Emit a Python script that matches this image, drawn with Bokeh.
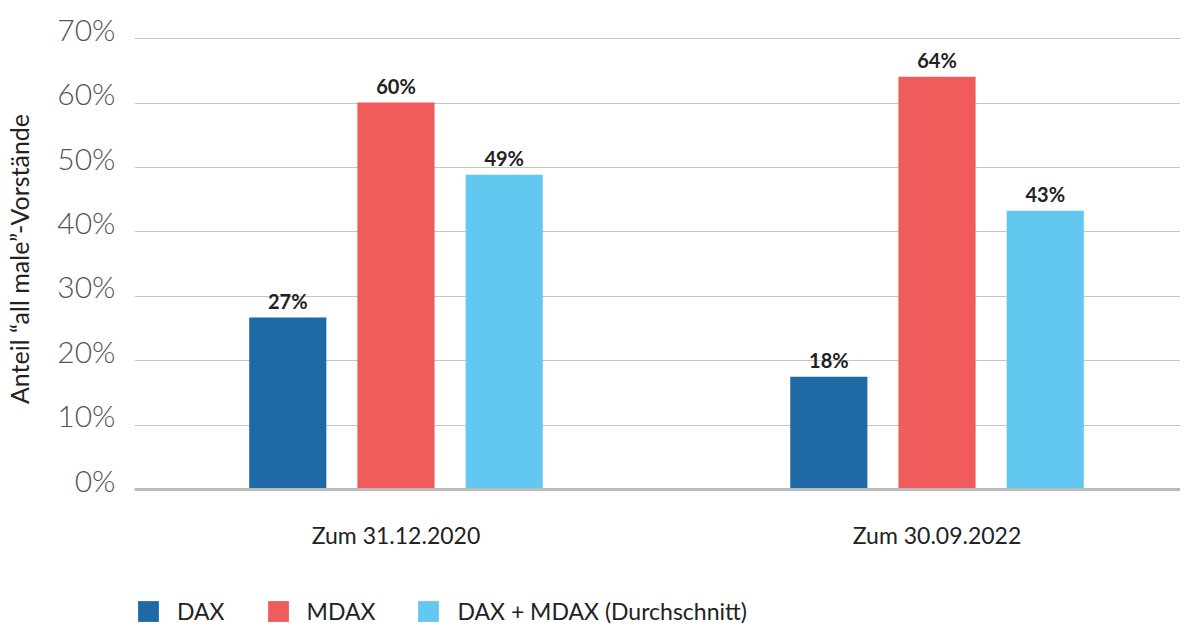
from bokeh.plotting import figure
from bokeh.models import ColumnDataSource, Range1d, FixedTicker, Legend, LegendItem, LinearAxis
from bokeh.layouts import column
from bokeh.transform import dodge
from bokeh.core.properties import value
from bokeh.embed import file_html
from bokeh.resources import INLINE

categories = ["Zum 31.12.2020", "Zum 30.09.2022"]
series = ["DAX", "MDAX", "DAX + MDAX (Durchschnitt)"]
dax = [26.7, 17.5]
mdax = [60.1, 64.1]
avg = [48.9, 43.3]
y_ticks = [0, 10, 20, 30, 40, 50, 60, 70]
colors = ["#1F69A6", "#F05C5C", "#62C8F0"]

FONT = "Lato"
LIGHT = "'Lato Light', Lato"

pos = list(range(len(categories)))
data = {"x": pos, "DAX": dax, "MDAX": mdax, "AVG": avg}
for key, vals in (("DAX", dax), ("MDAX", mdax), ("AVG", avg)):
    data[key + "_lbl"] = [f"{round(v)}%" for v in vals]
src = ColumnDataSource(data)

W = 1180
p = figure(width=W, height=560, output_backend="svg", toolbar_location=None,
           x_range=Range1d(-0.4833, 1.45), y_range=Range1d(0, 71.6),
           y_axis_location=None,
           min_border_left=134, min_border_right=0, min_border_top=28, min_border_bottom=71)
p.outline_line_color = None
p.background_fill_color = "white"
p.border_fill_color = "white"

# label axis: same scale, shifted so each tick label sits just above its grid line
p.extra_y_ranges = {"lbl": Range1d(-1.55, 70.05)}

offsets = [-0.2, 0.0, 0.2]
keys = ["DAX", "MDAX", "AVG"]
for k, off, c in zip(keys, offsets, colors):
    p.vbar(x=dodge("x", off, range=p.x_range), top=k, width=0.1426, bottom=0,
           source=src, fill_color=c, line_color=None)
    p.text(x=dodge("x", off, range=p.x_range), y=k, text=k + "_lbl", source=src,
           text_align="center", text_baseline="bottom", y_offset=-5,
           text_font=value(FONT), text_font_style="bold", text_font_size="20px",
           text_color="#222222")

# x axis
p.xaxis.ticker = FixedTicker(ticks=pos)
p.xaxis.major_label_overrides = {i: c for i, c in zip(pos, categories)}
p.xaxis.major_tick_line_color = None
p.xaxis.minor_tick_line_color = None
p.xaxis.axis_line_color = "#bbbbbb"
p.xaxis.axis_line_width = 3
p.xaxis.major_label_standoff = 25
p.xaxis.major_label_text_font = FONT
p.xaxis.major_label_text_font_size = "23px"
p.xaxis.major_label_text_color = "#222222"

# y axis (tick labels + title)
yax = LinearAxis(y_range_name="lbl", ticker=FixedTicker(ticks=y_ticks))
yax.major_label_overrides = {t: f"{t}%" for t in y_ticks}
yax.major_tick_line_color = None
yax.minor_tick_line_color = None
yax.axis_line_color = None
yax.major_label_standoff = 13
yax.major_label_text_font = LIGHT
yax.major_label_text_font_size = "30px"
yax.major_label_text_color = "#555555"
yax.axis_label = "Anteil \u201call male\u201d-Vorst\u00e4nde"
yax.axis_label_text_font = FONT
yax.axis_label_text_font_style = "normal"
yax.axis_label_text_font_size = "25px"
yax.axis_label_text_color = "#222222"
yax.axis_label_standoff = 20
p.add_layout(yax, "left")

p.ygrid.ticker = FixedTicker(ticks=y_ticks)
p.xgrid.grid_line_color = None
p.ygrid.grid_line_color = "#c4c4c4"
p.ygrid.grid_line_width = 1

# legend strip (its renderers lie outside its visible ranges; only the legend shows)
p2 = figure(width=W, height=65, output_backend="svg", toolbar_location=None,
            x_range=Range1d(100, 101), y_range=Range1d(100, 101),
            x_axis_location=None, y_axis_location=None,
            min_border_left=0, min_border_right=0, min_border_top=0, min_border_bottom=0)
p2.outline_line_color = None
p2.grid.visible = False
legend_renderers = []
for k, c in zip(keys, colors):
    legend_renderers.append(p2.vbar(x="x", top=k, width=0.5, source=src,
                                    fill_color=c, line_color=None))
legend = Legend(items=[LegendItem(label=s, renderers=[r]) for s, r in zip(series, legend_renderers)],
                orientation="horizontal", location=(1, 0),
                glyph_width=26, glyph_height=26, label_standoff=16, spacing=40,
                padding=0, margin=0, border_line_color=None, background_fill_alpha=0,
                label_text_font=FONT, label_text_font_size="23px", label_text_color="#222222",
                label_height=26)
p2.add_layout(legend, "center")

layout = column(p, p2, spacing=0)
open("out.html", "w").write(file_html(layout, INLINE))
